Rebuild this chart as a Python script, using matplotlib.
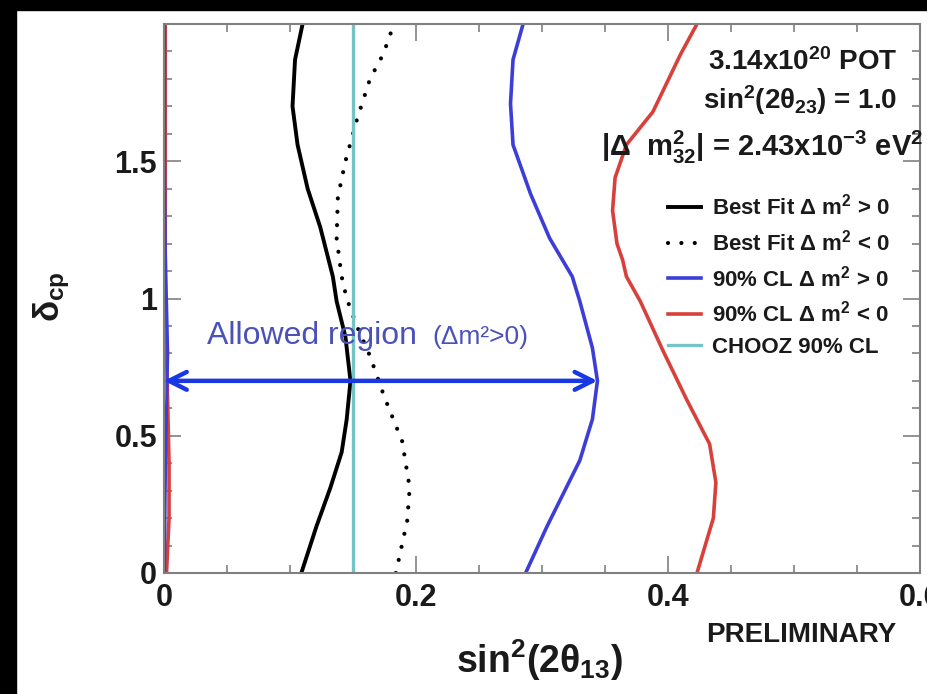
import numpy as np
import matplotlib
matplotlib.use("Agg")
import matplotlib.pyplot as plt
from matplotlib.patches import Rectangle

plt.rcParams['font.family'] = ['Liberation Sans', 'DejaVu Sans']
plt.rcParams['font.weight'] = 'bold'
plt.rcParams['axes.labelweight'] = 'bold'
plt.rcParams['mathtext.fontset'] = 'custom'
plt.rcParams['mathtext.rm'] = 'Liberation Sans:bold'
plt.rcParams['mathtext.it'] = 'Liberation Sans:bold'
plt.rcParams['mathtext.bf'] = 'Liberation Sans:bold'
plt.rcParams['mathtext.sf'] = 'Liberation Sans:bold'

# values: delta_cp (units of pi) vs sin^2(2 theta13)
bf_norm_d = [0.0, 0.17, 0.31, 0.44, 0.56, 0.70, 0.86, 0.99, 1.08, 1.26, 1.40, 1.56, 1.70, 1.87, 2.0]
bf_norm_x = [0.109, 0.121, 0.132, 0.141, 0.145, 0.148, 0.144, 0.137, 0.134, 0.124, 0.114, 0.106, 0.102, 0.104, 0.110]

bf_inv_d = [0.0, 0.19, 0.31, 0.48, 0.64, 0.79, 0.90, 1.00, 1.08, 1.22, 1.37, 1.50, 1.65, 1.80, 1.89, 2.0]
bf_inv_x = [0.184, 0.193, 0.195, 0.189, 0.175, 0.1635, 0.153, 0.145, 0.141, 0.137, 0.138, 0.144, 0.153, 0.1635, 0.174, 0.1825]

cl_norm_d = [0.0, 0.17, 0.29, 0.41, 0.56, 0.70, 0.82, 0.99, 1.08, 1.22, 1.38, 1.56, 1.71, 1.87, 2.0]
cl_norm_x = [0.287, 0.304, 0.317, 0.330, 0.340, 0.344, 0.340, 0.330, 0.324, 0.306, 0.291, 0.277, 0.275, 0.277, 0.285]
cl_norm_lo_d = [0.0, 0.3, 0.6, 0.8, 1.0, 1.2, 1.5, 2.0]
cl_norm_lo_x = [0.0005, 0.001, 0.002, 0.003, 0.002, 0.001, 0.0005, 0.0005]

cl_inv_d = [0.0, 0.20, 0.33, 0.47, 0.63, 0.81, 0.99, 1.08, 1.14, 1.20, 1.32, 1.44, 1.56, 1.68, 1.89, 2.0]
cl_inv_x = [0.423, 0.436, 0.438, 0.433, 0.415, 0.396, 0.378, 0.367, 0.364, 0.3595, 0.356, 0.358, 0.367, 0.388, 0.410, 0.423]
cl_inv_lo_d = [0.0, 0.2, 0.4, 0.6, 0.8, 1.0, 1.2, 1.5, 1.8, 2.0]
cl_inv_lo_x = [0.002, 0.004, 0.004, 0.003, 0.002, 0.001, 0.001, 0.001, 0.001, 0.001]

chooz_limit = 0.15
allowed_delta = 0.70
allowed_range = [0.0, 0.344]

xticks = [0, 0.2, 0.4, 0.6]
xticklabels = ['0', '0.2', '0.4', '0.6']
yticks = [0, 0.5, 1, 1.5]
yticklabels = ['0', '0.5', '1', '1.5']

W, H = 928, 694
fig = plt.figure(figsize=(W / 100, H / 100), dpi=100, facecolor='white')
# black strips of the screenshot
fig.patches.append(Rectangle((0, 0), 16 / W, 1, transform=fig.transFigure, color='black', zorder=-1))
fig.patches.append(Rectangle((0, 1 - 10 / H), 1, 10 / H, transform=fig.transFigure, color='black', zorder=-1))

ax = fig.add_axes([164 / W, (H - 573) / H, (920 - 164) / W, (573 - 24) / H])

blue = '#3d3dd8'
red = '#d8403c'
cyan = '#74c4c6'
ink = '#1a1a1a'

ax.plot(bf_norm_x, bf_norm_d, color='black', lw=2.8, label=r'Best Fit $\Delta$ m$^2$ > 0')
ax.plot(bf_inv_x, bf_inv_d, color='black', lw=3.0, dashes=(0.01, 3.2), dash_capstyle='round',
        label=r'Best Fit $\Delta$ m$^2$ < 0')
ax.plot(cl_norm_x, cl_norm_d, color=blue, lw=2.6, label=r'90% CL $\Delta$ m$^2$ > 0')
ax.plot(cl_inv_x, cl_inv_d, color=red, lw=2.6, label=r'90% CL $\Delta$ m$^2$ < 0')
ax.plot(cl_inv_lo_x, cl_inv_lo_d, color=red, lw=2.6)
ax.plot(cl_norm_lo_x, cl_norm_lo_d, color=blue, lw=2.2)
ax.axvline(chooz_limit, color=cyan, lw=2.4, label='CHOOZ 90% CL')

ax.annotate('', xy=(allowed_range[0], allowed_delta), xytext=(allowed_range[1], allowed_delta),
            arrowprops=dict(arrowstyle='<->', color='#1838e4', lw=3.2, mutation_scale=32,
                            shrinkA=0, shrinkB=0))
ax.text(0.034, 0.865, 'Allowed region', color='#4a52b8', fontsize=23, fontweight='normal',
        va='center', ha='left')
ax.text(0.213, 0.86, '(Δm²>0)', color='#4a52b8', fontsize=19, fontweight='normal',
        va='center', ha='left')

ax.set_xlim(0, 0.6)
ax.set_ylim(0, 2)
ax.set_xticks(xticks)
ax.set_xticklabels(xticklabels)
ax.set_yticks(yticks)
ax.set_yticklabels(yticklabels)
ax.set_xticks(np.arange(0, 0.6001, 0.05), minor=True)
ax.set_yticks(np.arange(0, 2.0001, 0.1), minor=True)
ax.tick_params(which='both', direction='in', top=True, right=True, color='#808080',
               labelcolor=ink, labelsize=22, width=1.2)
ax.tick_params(which='major', length=12)
ax.tick_params(which='minor', length=6)
ax.tick_params(axis='x', pad=7)
ax.tick_params(axis='y', pad=5)
for s in ax.spines.values():
    s.set_color('#808080')
    s.set_linewidth(1.5)

ax.set_xlabel(r'sin$^2$(2$\theta_{13}$)', fontsize=27, color=ink)
ax.xaxis.set_label_coords(0.497, -0.118)
ax.set_ylabel(r'$\delta_{cp}$', fontsize=25, color=ink)
ax.yaxis.set_label_coords(-0.122, 0.503)

fig.text(897 / W, 1 - 62 / H, r'3.14x10$^{20}$ POT', ha='right', va='center', fontsize=20, color=ink)
fig.text(897 / W, 1 - 100 / H, r'sin$^2$(2$\theta_{23}$) = 1.0', ha='right', va='center', fontsize=20, color=ink)
fig.text(601 / W, 1 - 147 / H, r'|$\Delta$  m$^2_{32}$| = 2.43x10$^{-3}$ eV$^2$', ha='left', va='center',
         fontsize=21, color=ink)
fig.text(801 / W, 1 - 635 / H, 'PRELIMINARY', ha='center', va='center', fontsize=20, color=ink)

ax.legend(loc='upper left', bbox_to_anchor=(668 / W, 1 - 194 / H), bbox_transform=fig.transFigure,
          frameon=False, fontsize=16, handlelength=1.5, handletextpad=0.5, labelspacing=0.44,
          borderpad=0, borderaxespad=0, labelcolor=ink)

fig.savefig('out.png', dpi=100, facecolor=fig.get_facecolor())
